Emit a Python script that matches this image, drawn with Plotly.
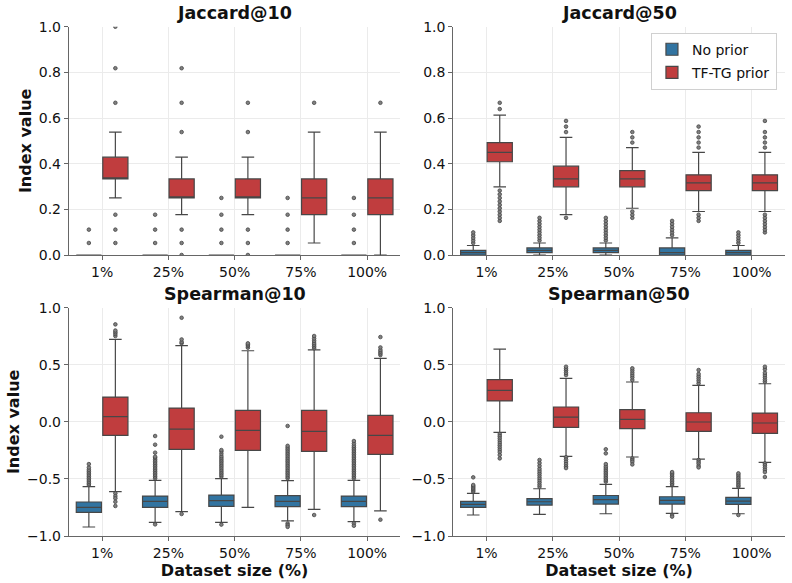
import plotly.graph_objects as go

CATEGORIES = ["1%", "25%", "50%", "75%", "100%"]
GROUPS = ["No prior", "TF-TG prior"]
COLORS = ["#3274a1", "#c03d3e"]

# ---------------- Jaccard@10 ----------------
J10_NO_Q1 = [0, 0, 0, 0, 0]
J10_NO_MED = [0, 0, 0, 0, 0]
J10_NO_Q3 = [0, 0, 0, 0, 0]
J10_NO_LO = [0, 0, 0, 0, 0]
J10_NO_HI = [0, 0, 0, 0, 0]
J10_NO_OUT = [
    [0.0526, 0.1111],
    [0.0526, 0.1111, 0.1765],
    [0.0526, 0.1111, 0.1765, 0.25],
    [0.0526, 0.1111, 0.1765, 0.25],
    [0.0526, 0.1111, 0.1765, 0.25],
]
J10_TF_Q1 = [0.3333, 0.25, 0.25, 0.1765, 0.1765]
J10_TF_MED = [0.3333, 0.25, 0.25, 0.25, 0.25]
J10_TF_Q3 = [0.4286, 0.3333, 0.3333, 0.3333, 0.3333]
J10_TF_LO = [0.25, 0.1765, 0.1765, 0.0526, 0.0]
J10_TF_HI = [0.5385, 0.4286, 0.4286, 0.5385, 0.5385]
J10_TF_OUT = [
    [0.0526, 0.1111, 0.1765, 0.6667, 0.8182, 1.0],
    [0.0, 0.0526, 0.1111, 0.5385, 0.6667, 0.8182],
    [0.0, 0.0526, 0.1111, 0.5385, 0.6667],
    [0.6667],
    [0.6667],
]

# ---------------- Jaccard@50 ----------------
J50_NO_Q1 = [0, 0.0101, 0.0101, 0, 0]
J50_NO_MED = [0.0101, 0.0204, 0.0204, 0.0101, 0.0101]
J50_NO_Q3 = [0.0204, 0.0309, 0.0309, 0.0309, 0.0204]
J50_NO_LO = [0, 0, 0, 0, 0]
J50_NO_HI = [0.0417, 0.0526, 0.0526, 0.0753, 0.0417]
J50_NO_OUT = [
    [0.0526, 0.0638, 0.0753, 0.087, 0.0989],
    [0.0638, 0.0753, 0.087, 0.0989, 0.1111, 0.1236, 0.1364, 0.1494, 0.1628],
    [0.0638, 0.0753, 0.087, 0.0989, 0.1111, 0.1236, 0.1364, 0.1494, 0.1628],
    [0.087, 0.0989, 0.1111, 0.1236, 0.1364, 0.1494],
    [0.0526, 0.0638, 0.0753, 0.087, 0.0989],
]
J50_TF_Q1 = [0.4085, 0.2987, 0.2987, 0.2821, 0.2821]
J50_TF_MED = [0.4493, 0.3333, 0.3333, 0.3158, 0.3158]
J50_TF_Q3 = [0.4925, 0.3889, 0.3699, 0.3514, 0.3514]
J50_TF_LO = [0.2987, 0.1765, 0.2048, 0.1905, 0.1905]
J50_TF_HI = [0.6129, 0.5152, 0.4706, 0.4493, 0.4493]
J50_TF_OUT = [
    [0.1494, 0.1628, 0.1765, 0.1905, 0.2048, 0.2195, 0.2346, 0.25, 0.2658, 0.2821, 0.6393, 0.6667],
    [0.1628, 0.5385, 0.5625, 0.5873],
    [0.1628, 0.1765, 0.1905, 0.4925, 0.5152, 0.5385],
    [0.1494, 0.1628, 0.1765, 0.4706, 0.4925, 0.5152, 0.5385, 0.5625],
    [0.0989, 0.1111, 0.1236, 0.1364, 0.1494, 0.1628, 0.1765, 0.4706, 0.4925, 0.5152, 0.5385, 0.5873],
]

# ---------------- Spearman@10 ----------------
S10_NO_Q1 = [-0.793, -0.749, -0.740, -0.743, -0.743]
S10_NO_MED = [-0.749, -0.696, -0.690, -0.696, -0.696]
S10_NO_Q3 = [-0.702, -0.650, -0.641, -0.647, -0.650]
S10_NO_LO = [-0.921, -0.880, -0.880, -0.868, -0.874]
S10_NO_HI = [-0.568, -0.512, -0.498, -0.515, -0.512]
S10_NO_OUT = [
    [-0.553, -0.54, -0.525, -0.51, -0.495, -0.48, -0.465, -0.45, -0.435, -0.42, -0.40, -0.37],
    [-0.495, -0.48, -0.465, -0.45, -0.435, -0.42, -0.405, -0.39, -0.375, -0.36, -0.345,
     -0.33, -0.315, -0.305, -0.27, -0.20, -0.124, -0.898],
    [-0.48, -0.465, -0.45, -0.435, -0.42, -0.405, -0.39, -0.375, -0.36, -0.345, -0.33,
     -0.315, -0.30, -0.28, -0.26, -0.247, -0.13, -0.90],
    [-0.495, -0.48, -0.465, -0.45, -0.435, -0.42, -0.405, -0.39, -0.375, -0.36, -0.345,
     -0.33, -0.315, -0.30, -0.285, -0.27, -0.255, -0.24, -0.225, -0.21, -0.036,
     -0.89, -0.905, -0.92],
    [-0.495, -0.48, -0.465, -0.45, -0.435, -0.42, -0.405, -0.39, -0.375, -0.36, -0.345,
     -0.33, -0.315, -0.30, -0.285, -0.27, -0.255, -0.24, -0.225, -0.21, -0.19, -0.168,
     -0.89, -0.91],
]
S10_TF_Q1 = [-0.118, -0.241, -0.250, -0.258, -0.285]
S10_TF_MED = [0.045, -0.063, -0.075, -0.083, -0.118]
S10_TF_Q3 = [0.217, 0.121, 0.100, 0.100, 0.057]
S10_TF_LO = [-0.612, -0.787, -0.750, -0.767, -0.779]
S10_TF_HI = [0.723, 0.667, 0.623, 0.630, 0.556]
S10_TF_OUT = [
    [0.752, 0.77, 0.785, 0.80, 0.854, -0.626, -0.65, -0.67, -0.70, -0.737],
    [0.688, 0.70, 0.722, 0.912, -0.807],
    [0.65, 0.665, 0.677, 0.688],
    [0.645, 0.66, 0.675, 0.69, 0.71, 0.73, 0.752, -0.816],
    [0.585, 0.60, 0.615, 0.63, 0.652, 0.743, -0.857],
]

# ---------------- Spearman@50 ----------------
S50_NO_Q1 = [-0.749, -0.729, -0.720, -0.720, -0.723]
S50_NO_MED = [-0.723, -0.700, -0.682, -0.688, -0.694]
S50_NO_Q3 = [-0.697, -0.673, -0.645, -0.656, -0.662]
S50_NO_LO = [-0.816, -0.810, -0.805, -0.802, -0.805]
S50_NO_HI = [-0.627, -0.586, -0.548, -0.568, -0.583]
S50_NO_OUT = [
    [-0.612, -0.60, -0.588, -0.576, -0.564, -0.553, -0.486],
    [-0.568, -0.55, -0.53, -0.51, -0.49, -0.47, -0.45, -0.43, -0.41, -0.385, -0.36, -0.334],
    [-0.524, -0.51, -0.495, -0.48, -0.465, -0.45, -0.435, -0.42, -0.405, -0.39, -0.37,
     -0.276, -0.24],
    [-0.553, -0.54, -0.525, -0.51, -0.495, -0.48, -0.465, -0.452, -0.44, -0.816, -0.83],
    [-0.568, -0.555, -0.54, -0.525, -0.51, -0.495, -0.48, -0.465, -0.451, -0.816],
]
S50_TF_Q1 = [0.183, -0.048, -0.060, -0.083, -0.100]
S50_TF_MED = [0.276, 0.042, 0.022, -0.001, -0.010]
S50_TF_Q3 = [0.370, 0.130, 0.107, 0.080, 0.077]
S50_TF_LO = [-0.092, -0.302, -0.308, -0.326, -0.355]
S50_TF_HI = [0.638, 0.381, 0.349, 0.320, 0.334]
S50_TF_OUT = [
    [-0.107, -0.125, -0.145, -0.165, -0.185, -0.205, -0.225, -0.245, -0.265, -0.29, -0.32],
    [0.41, 0.43, 0.45, 0.465, 0.483, -0.31, -0.33, -0.35, -0.37, -0.39, -0.405],
    [0.367, 0.39, 0.41, 0.43, 0.45, 0.469, -0.32, -0.335, -0.35, -0.373],
    [0.337, 0.36, 0.38, 0.40, 0.42, 0.454, -0.334, -0.35, -0.365, -0.385, -0.399],
    [0.352, 0.37, 0.39, 0.41, 0.43, 0.46, 0.483, -0.364, -0.38, -0.40, -0.42, -0.44, -0.483],
]

TITLES = ["Jaccard@10", "Jaccard@50", "Spearman@10", "Spearman@50"]

PANELS = [
    [(J10_NO_Q1, J10_NO_MED, J10_NO_Q3, J10_NO_LO, J10_NO_HI, J10_NO_OUT),
     (J10_TF_Q1, J10_TF_MED, J10_TF_Q3, J10_TF_LO, J10_TF_HI, J10_TF_OUT)],
    [(J50_NO_Q1, J50_NO_MED, J50_NO_Q3, J50_NO_LO, J50_NO_HI, J50_NO_OUT),
     (J50_TF_Q1, J50_TF_MED, J50_TF_Q3, J50_TF_LO, J50_TF_HI, J50_TF_OUT)],
    [(S10_NO_Q1, S10_NO_MED, S10_NO_Q3, S10_NO_LO, S10_NO_HI, S10_NO_OUT),
     (S10_TF_Q1, S10_TF_MED, S10_TF_Q3, S10_TF_LO, S10_TF_HI, S10_TF_OUT)],
    [(S50_NO_Q1, S50_NO_MED, S50_NO_Q3, S50_NO_LO, S50_NO_HI, S50_NO_OUT),
     (S50_TF_Q1, S50_TF_MED, S50_TF_Q3, S50_TF_LO, S50_TF_HI, S50_TF_OUT)],
]

FONT = "DejaVu Sans"
LINE = "#474747"
OFFSETS = [-0.2, 0.2]
BOX_W = 0.38

X_DOMAINS = [[0.0871, 0.5054], [0.5724, 0.9909]]
Y_DOMAINS = [[0.5626, 0.9542], [0.0806, 0.4722]]

fig = go.Figure()

for p, groups in enumerate(PANELS):
    ax = "" if p == 0 else str(p + 1)
    for g, (q1, med, q3, lo, hi, outs) in enumerate(groups):
        xs = [i + OFFSETS[g] for i in range(len(CATEGORIES))]
        fig.add_trace(go.Box(
            x=xs, q1=q1, median=med, q3=q3, lowerfence=lo, upperfence=hi,
            name=GROUPS[g], legendgroup=GROUPS[g], showlegend=(p == 0),
            fillcolor=COLORS[g], line=dict(color=LINE, width=1.2),
            width=BOX_W, whiskerwidth=0.5, boxpoints=False,
            xaxis="x" + ax, yaxis="y" + ax, hoverinfo="skip",
        ))
        ox, oy = [], []
        for i, vals in enumerate(outs):
            for v in vals:
                ox.append(i + OFFSETS[g])
                oy.append(v)
        fig.add_trace(go.Scatter(
            x=ox, y=oy, mode="markers", showlegend=False,
            marker=dict(symbol="circle", size=3.6, color="#808080",
                        line=dict(color="#444444", width=0.8)),
            xaxis="x" + ax, yaxis="y" + ax, hoverinfo="skip",
        ))

layout = dict(
    width=792, height=583,
    margin=dict(l=0, r=0, t=0, b=0, autoexpand=False),
    paper_bgcolor="white", plot_bgcolor="white",
    font=dict(family=FONT, size=14, color="#111"),
    boxmode="overlay",
    legend=dict(x=0.981, y=0.944, xanchor="right", yanchor="top",
                bgcolor="white", bordercolor="#d0d0d0", borderwidth=1,
                font=dict(size=14), tracegroupgap=2, itemwidth=30),
    annotations=[],
)

for p in range(4):
    ax = "" if p == 0 else str(p + 1)
    row, col = divmod(p, 2)
    is_jac = row == 0
    xa = dict(
        domain=X_DOMAINS[col], anchor="y" + ax, range=[-0.5, 4.5],
        tickmode="array", tickvals=list(range(len(CATEGORIES))), ticktext=CATEGORIES,
        showline=True, linecolor="#666", linewidth=1.3,
        ticks="outside", ticklen=4, tickcolor="#666",
        showgrid=True, gridcolor="#ebebeb", gridwidth=1, zeroline=False,
        tickfont=dict(size=14, family=FONT), automargin=False,
    )
    if row == 1:
        xa["title"] = dict(text="<b>Dataset size (%)</b>", font=dict(size=16, family=FONT), standoff=3)
    ya = dict(
        domain=Y_DOMAINS[row], anchor="x" + ax,
        range=[0, 1] if is_jac else [-1, 1],
        tickmode="array",
        tickvals=[0, 0.2, 0.4, 0.6, 0.8, 1.0] if is_jac else [-1, -0.5, 0, 0.5, 1],
        tickformat=".1f",
        showline=True, linecolor="#666", linewidth=1.3,
        ticks="outside", ticklen=4, tickcolor="#666",
        showgrid=True, gridcolor="#ebebeb", gridwidth=1, zeroline=False,
        tickfont=dict(size=14, family=FONT), automargin=False,
    )
    if col == 0:
        ya["title"] = dict(text="<b>Index value</b>", font=dict(size=16, family=FONT), standoff=3)
    layout["xaxis" + ax] = xa
    layout["yaxis" + ax] = ya
    layout["annotations"].append(dict(
        text="<b>" + TITLES[p] + "</b>", xref="paper", yref="paper",
        x=sum(X_DOMAINS[col]) / 2, y=Y_DOMAINS[row][1],
        xanchor="center", yanchor="bottom", yshift=2, showarrow=False,
        font=dict(size=17.5, family=FONT, color="#111"),
    ))

fig.update_layout(**layout)
fig.write_html("out.html")
